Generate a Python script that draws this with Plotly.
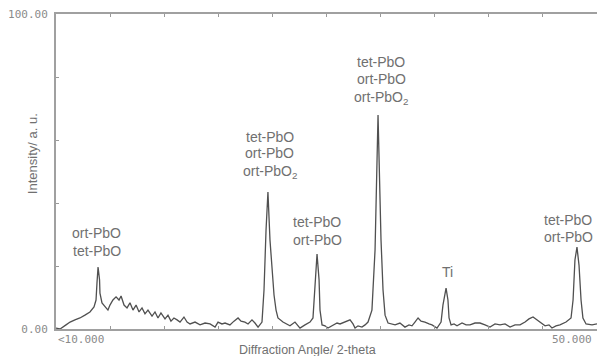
import plotly.graph_objects as go

# Diffraction angle (2-theta, degrees) and intensity (a.u.)
two_theta = [10.00, 10.30, 10.74, 11.04, 11.40, 11.77, 12.14, 12.51, 12.81, 12.96, 13.03, 13.11, 13.22, 13.25,
             13.40, 13.62, 13.84, 13.99, 14.21, 14.44, 14.66, 14.81, 15.03, 15.25, 15.47, 15.69, 15.92, 16.14,
             16.36, 16.58, 16.80, 17.10, 17.32, 17.54, 17.76, 18.06, 18.28, 18.50, 18.72, 18.95, 19.17, 19.46,
             19.69, 19.91, 20.28, 20.65, 21.02, 21.39, 21.76, 21.98, 22.27, 22.50, 22.86, 23.16, 23.46, 23.68,
             23.97, 24.20, 24.49, 24.71, 24.94, 25.23, 25.38, 25.53, 25.67, 25.82, 25.97, 26.12, 26.27, 26.41,
             26.78, 27.08, 27.30, 27.67, 28.04, 28.41, 28.78, 29.00, 29.15, 29.30, 29.45, 29.52, 29.67, 29.89,
             30.11, 30.48, 30.78, 31.00, 31.37, 31.74, 31.96, 32.11, 32.33, 32.62, 32.85, 33.07, 33.36, 33.59,
             33.81, 34.03, 34.18, 34.33, 34.55, 34.77, 35.07, 35.43, 35.80, 36.10, 36.32, 36.54, 36.77, 36.99,
             37.28, 37.58, 37.80, 38.17, 38.47, 38.61, 38.84, 38.98, 39.06, 39.21, 39.43, 39.65, 40.02, 40.32,
             40.61, 40.98, 41.35, 41.72, 42.09, 42.46, 42.83, 43.20, 43.57, 43.94, 44.31, 44.68, 44.97, 45.27,
             45.56, 45.79, 46.16, 46.45, 46.67, 46.97, 47.26, 47.71, 48.08, 48.23, 48.37, 48.52, 48.67, 48.82,
             48.96, 49.19, 49.63, 50.00]
intensity = [0.3, 0.0, 1.3, 2.2, 2.9, 3.5, 4.4, 5.4, 7.0, 9.2, 14.6, 19.7, 15.6, 11.4,
             8.3, 7.0, 6.0, 7.6, 9.2, 10.2, 9.2, 10.5, 7.6, 6.7, 8.3, 6.0, 7.6, 5.4,
             6.7, 4.8, 6.0, 4.1, 5.4, 3.5, 5.1, 3.2, 4.4, 2.5, 3.5, 2.9, 2.2, 3.8,
             2.2, 1.6, 2.2, 1.3, 1.9, 1.6, 0.6, 2.2, 1.6, 1.9, 1.3, 2.5, 3.5, 2.5,
             2.2, 1.6, 2.9, 1.9, 0.6, 2.2, 12.4, 31.4, 43.5, 28.3, 18.7, 10.8, 6.0, 3.5,
             2.2, 1.6, 1.0, 2.2, 0.3, 1.3, 2.2, 3.5, 12.4, 23.8, 15.6, 6.0, 1.3, 1.0,
             0.3, 1.3, 1.9, 1.6, 2.2, 2.9, 1.6, 0.3, 1.0, 0.6, 1.3, 2.2, 6.0, 25.1,
             67.9, 28.3, 12.4, 4.4, 1.9, 1.6, 1.3, 1.9, 0.6, 1.3, 1.0, 2.2, 3.5, 2.5,
             2.2, 1.6, 1.3, 0.3, 2.2, 7.6, 13.0, 9.2, 3.5, 1.3, 1.6, 1.0, 1.9, 1.3,
             1.3, 1.9, 1.9, 1.3, 0.6, 1.6, 1.3, 1.6, 0.6, 1.3, 1.3, 2.2, 3.2, 3.8,
             2.9, 1.9, 1.0, 1.3, 0.3, 1.0, 1.3, 2.2, 3.5, 9.2, 21.9, 26.0, 20.3, 9.2,
             3.5, 1.6, 1.3, 1.6]

# Peak labels: (text, x position, y position) in data units
peak_labels = [
    ("ort-PbO", 13.03, 30.5), ("tet-PbO", 13.03, 24.8),
    ("tet-PbO", 25.82, 61.0), ("ort-PbO", 25.82, 55.9), ("ort-PbO<sub>2</sub>", 25.82, 49.8),
    ("tet-PbO", 29.30, 34.0), ("ort-PbO", 29.30, 28.3),
    ("tet-PbO", 34.03, 84.8), ("ort-PbO", 34.03, 79.4), ("ort-PbO<sub>2</sub>", 34.03, 73.3),
    ("Ti", 38.91, 18.1),
    ("tet-PbO", 47.86, 34.6), ("ort-PbO", 47.86, 29.2),
]

x_tick_vals = [10, 14, 18, 22, 26, 30, 34, 38, 42, 46, 50]
y_label_vals = [0, 100]
y_label_text = ["0.00", "100.00"]
y_minor_vals = [20, 40, 60, 80]

fig = go.Figure()
fig.add_trace(go.Scatter(x=two_theta, y=intensity, mode="lines",
                         line=dict(color="#505050", width=1.3), showlegend=False,
                         hoverinfo="skip"))

text_font = dict(family="Liberation Sans, Arial, sans-serif", size=14, color="#707070")
annotations = []
for txt, ax, ay in peak_labels:
    annotations.append(dict(x=ax, y=ay, xref="x", yref="y", text=txt, showarrow=False,
                            font=text_font, xanchor="center", yanchor="middle"))

tick_font = dict(family="DejaVu Sans Mono, monospace", size=11, color="#8a8a8a")
annotations.append(dict(x=0, y=0, xref="paper", yref="paper", text="<10.000", showarrow=False,
                        font=tick_font, xanchor="left", yanchor="top", yshift=-2))
annotations.append(dict(x=1, y=0, xref="paper", yref="paper", text="50.000", showarrow=False,
                        font=tick_font, xanchor="right", yanchor="top", yshift=-2, xshift=-3))
annotations.append(dict(x=0.465, y=0, xref="paper", yref="paper", text="Diffraction Angle/ 2-theta",
                        showarrow=False, font=dict(family="Liberation Sans, Arial, sans-serif", size=12.5, color="#707070"),
                        xanchor="center", yanchor="middle", yshift=-21))
annotations.append(dict(x=0, y=0.555, xref="paper", yref="paper", text="Intensity/ a. u.",
                        showarrow=False, textangle=-90,
                        font=dict(family="Liberation Sans, Arial, sans-serif", size=13, color="#707070"),
                        xanchor="center", yanchor="middle", xshift=-24))

fig.update_layout(
    width=598, height=356,
    margin=dict(l=56, r=1, t=14, b=27),
    paper_bgcolor="white", plot_bgcolor="white",
    annotations=annotations,
    xaxis=dict(range=[10, 50], tickvals=x_tick_vals, showticklabels=False,
               ticks="inside", ticklen=3, tickcolor="#999", mirror="ticks",
               showline=True, linecolor="#a0a0a0", linewidth=2, showgrid=False, zeroline=False),
    yaxis=dict(range=[0, 100], tickvals=y_label_vals, ticktext=y_label_text,
               ticks="inside", ticklen=3, tickcolor="#999", tickfont=tick_font, ticklabelstandoff=4,
               minor=dict(tickvals=y_minor_vals, ticks="inside", ticklen=3, tickcolor="#999", showgrid=False),
               showline=True, linecolor="#a0a0a0", linewidth=2, showgrid=False, zeroline=False),
)

fig.write_html("out.html")
